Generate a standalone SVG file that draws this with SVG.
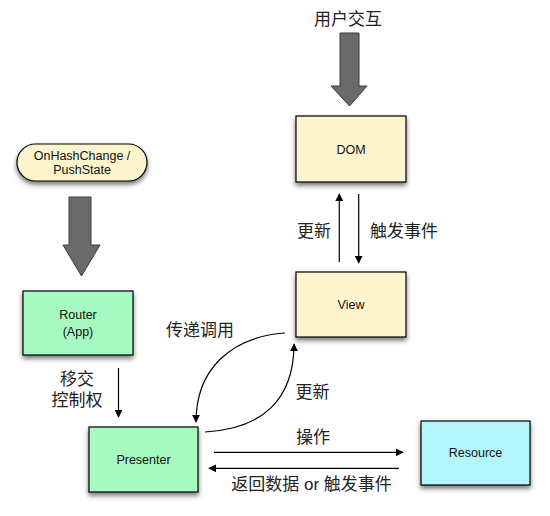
<svg xmlns="http://www.w3.org/2000/svg" width="550" height="516" viewBox="0 0 550 516">
<defs>
<filter id="sh" x="-20%" y="-20%" width="140%" height="150%">
<feDropShadow dx="0" dy="3" stdDeviation="2.5" flood-color="#000" flood-opacity="0.55"/>
</filter>
<marker id="ah" viewBox="0 0 10 10" refX="9" refY="5" markerWidth="8" markerHeight="8" markerUnits="userSpaceOnUse" orient="auto">
<path d="M0,0 L10,5 L0,10 z" fill="#000"/>
</marker>
<style>
.box{stroke:#000;stroke-width:1.2;filter:url(#sh)}
.yel{fill:#FEF5CF}
.grn{fill:#A6F9C0}
.cyn{fill:#B3F6FC}
.nt{font-family:"Liberation Sans",Arial,sans-serif;font-size:12.5px;fill:#111;text-anchor:middle}
.lb{font-family:"Liberation Sans","Noto Sans CJK SC",sans-serif;font-size:17px;fill:#222;text-anchor:middle}
.big{fill:#6A6A6A;stroke:#3A3A3A;stroke-width:1}
.ln{fill:none;stroke:#000;stroke-width:1.2;marker-end:url(#ah)}
</style>
</defs>
<g id="user-interaction">
<text class="lb" x="348" y="25">用户交互</text>
<path class="big" d="M340,33 H359 V86 H367 L349.5,106 L331,86 H340 Z"/>
</g>
<g id="onhashchange">
<rect class="box yel" x="17" y="144" width="130" height="37" rx="18.5"/>
<text class="nt" x="82" y="160">OnHashChange /</text>
<text class="nt" x="82" y="174">PushState</text>
<path class="big" d="M69,197 H91 V245 H100 L81.5,276 L63,245 H69 Z"/>
</g>
<g id="dom">
<rect class="box yel" x="296" y="116" width="110" height="66"/>
<text class="nt" x="351" y="153.5">DOM</text>
</g>
<g id="view">
<rect class="box yel" x="296" y="272" width="110" height="65"/>
<text class="nt" x="351" y="309">View</text>
</g>
<g id="router">
<rect class="box grn" x="23" y="291" width="110" height="64"/>
<text class="nt" x="78" y="319">Router</text>
<text class="nt" x="78" y="336">(App)</text>
</g>
<g id="presenter">
<rect class="box grn" x="89" y="427" width="109" height="65"/>
<text class="nt" x="143.5" y="464">Presenter</text>
</g>
<g id="resource">
<rect class="box cyn" x="421" y="421" width="109" height="64"/>
<text class="nt" x="475.5" y="457">Resource</text>
</g>
<g id="connectors">
<path class="ln" d="M339.3,262 V194"/>
<path class="ln" d="M358.7,194 V263"/>
<path class="ln" d="M118.5,368 V417"/>
<path class="ln" d="M285,333 C230,337 196,370 196,422"/>
<path class="ln" d="M205,432 C262,429 294,400 294,344"/>
<path class="ln" d="M214,452.3 H403"/>
<path class="ln" d="M399,468.3 H209"/>
<text class="lb" x="314" y="237">更新</text>
<text class="lb" x="404" y="237">触发事件</text>
<text class="lb" x="200" y="336">传递调用</text>
<text class="lb" x="312.5" y="398">更新</text>
<text class="lb" x="77" y="385">移交</text>
<text class="lb" x="77" y="406">控制权</text>
<text class="lb" x="313" y="443">操作</text>
<text class="lb" x="311.5" y="490">返回数据 or 触发事件</text>
</g>
</svg>
